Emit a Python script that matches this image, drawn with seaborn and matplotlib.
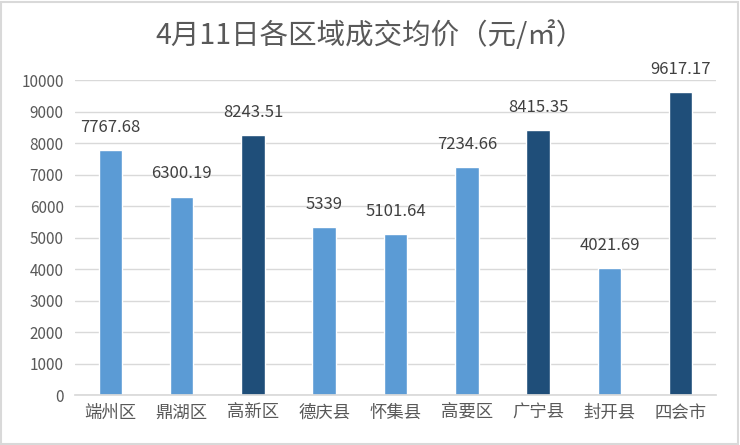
import matplotlib
matplotlib.use("Agg")
import matplotlib.pyplot as plt
import seaborn as sns
import pandas as pd
from matplotlib.patches import Rectangle

categories = ["端州区", "鼎湖区", "高新区", "德庆县", "怀集县", "高要区", "广宁县", "封开县", "四会市"]
values = [7767.68, 6300.19, 8243.51, 5339, 5101.64, 7234.66, 8415.35, 4021.69, 9617.17]
labels = ["7767.68", "6300.19", "8243.51", "5339", "5101.64", "7234.66", "8415.35", "4021.69", "9617.17"]
dark = ["高新区", "广宁县", "四会市"]
yticks = [0, 1000, 2000, 3000, 4000, 5000, 6000, 7000, 8000, 9000, 10000]

sns.set_theme(style="white")
plt.rcParams["font.family"] = ["Noto Sans CJK SC", "DejaVu Sans"]

df = pd.DataFrame({"cat": categories, "val": values})
palette = {c: ("#1F4E79" if c in dark else "#5B9BD5") for c in categories}

fig = plt.figure(figsize=(7.4, 4.45), dpi=100)
ax = fig.add_axes([0.101, 0.112, 0.867, 0.708])
sns.barplot(data=df, x="cat", y="val", hue="cat", palette=palette, width=0.33,
            legend=False, ax=ax, saturation=1)

ax.set_ylim(0, 10000)
ax.set_xlim(-0.5, len(categories) - 0.5)
ax.set_yticks(yticks)
ax.set_yticklabels([str(t) for t in yticks])
ax.yaxis.grid(True, color="#D9D9D9", linewidth=1)
ax.set_axisbelow(True)
for s in ["top", "right", "left"]:
    ax.spines[s].set_visible(False)
ax.spines["bottom"].set_color("#D9D9D9")
ax.tick_params(axis="y", length=0, labelsize=11, colors="#595959", pad=8)
ax.tick_params(axis="x", length=0, labelsize=12.5, colors="#595959", pad=6)
ax.set_xlabel("")
ax.set_ylabel("")

for i, (v, t) in enumerate(zip(values, labels)):
    ax.text(i, v + 450, t, ha="center", va="bottom", fontsize=12, color="#404040")

fig.text(0.5, 0.918, "4月11日各区域成交均价（元/㎡）", ha="center", va="center",
         fontsize=20.5, color="#595959")

fig.patches.append(Rectangle((0.002, 0.003), 0.995, 0.993, transform=fig.transFigure,
                             fill=False, edgecolor="#D9D9D9", linewidth=1.5))

fig.savefig("out.png", dpi=100)
